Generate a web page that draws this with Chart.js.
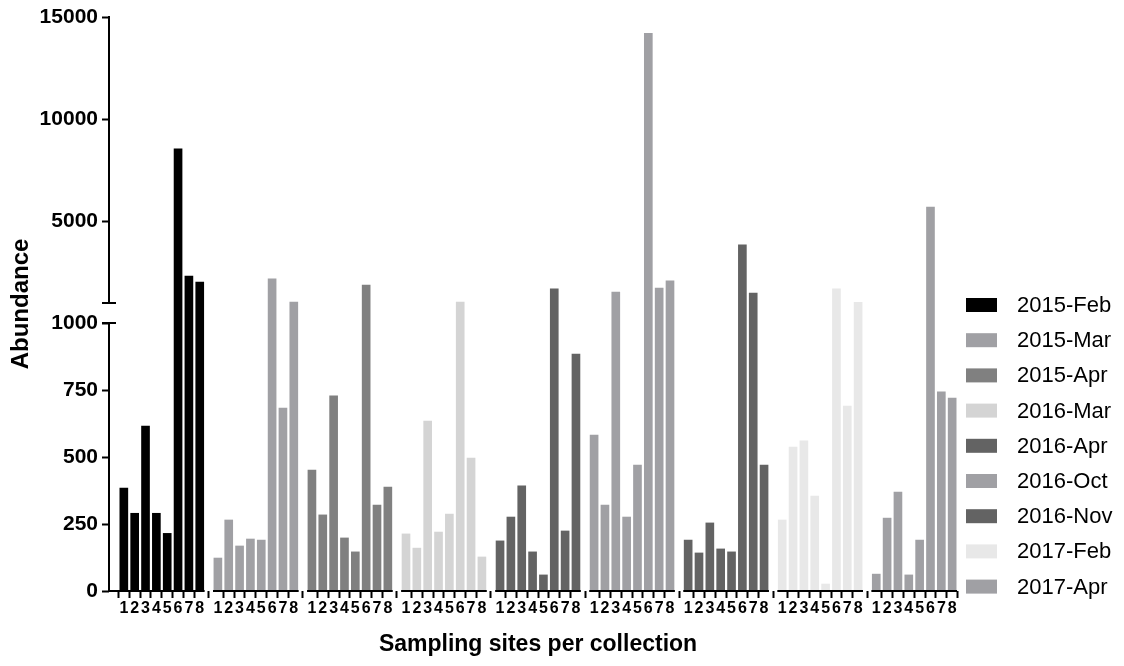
<!DOCTYPE html>
<html>
<head>
<meta charset="utf-8">
<title>Abundance per sampling site</title>
<script src="https://cdn.jsdelivr.net/npm/chart.js@4.4.0/dist/chart.umd.min.js"></script>
<style>
  html, body { margin: 0; padding: 0; background: #fff; }
</style>
</head>
<body>
<canvas id="chart" width="1124" height="666"></canvas>
<script>
// collections (legend) and the 8 sampling sites of each one
const collections = ['2015-Feb', '2015-Mar', '2015-Apr', '2016-Mar', '2016-Apr', '2016-Oct', '2016-Nov', '2017-Feb', '2017-Apr'];
const sites = ['1', '2', '3', '4', '5', '6', '7', '8'];

// abundance per site
const feb2015 = [384, 290, 615, 290, 215, 8550, 2320, 2030];
const mar2015 = [123, 265, 168, 194, 190, 2180, 683, 1050];
const apr2015 = [451, 284, 728, 198, 146, 1880, 321, 388];
const mar2016 = [213, 160, 634, 220, 287, 1050, 496, 127];
const apr2016 = [187, 276, 392, 146, 60, 1690, 224, 884];
const oct2016 = [582, 321, 1540, 276, 470, 14200, 1730, 2080];
const nov2016 = [190, 142, 254, 157, 146, 3850, 1490, 470];
const feb2017 = [265, 537, 560, 354, 26, 1690, 690, 1030];
const apr2017 = [63, 272, 369, 60, 190, 5700, 743, 720];

const seriesValues = [feb2015, mar2015, apr2015, mar2016, apr2016, oct2016, nov2016, feb2017, apr2017];
const colors = ['#000000', '#a0a0a4', '#808080', '#d4d4d4', '#636363', '#a0a0a4', '#636363', '#e8e8e8', '#a0a0a4'];

// y axis tick labels, below and above the break
const lowTicks = [0, 250, 500, 750, 1000];
const highTicks = [5000, 10000, 15000];

// broken y axis: 0-1000 linear, a gap, then 1000-15000 compressed
const BREAK = 1000;
const GAP = 74.6;
const K = 0.07623;
const toAxis = v => v <= BREAK ? v : BREAK + GAP + (v - BREAK) * K;

// bar positions on the x axis: 8 sites per collection, a small gap between collections
const GROUP_STEP = 8.673;
const xPos = (g, i) => g * GROUP_STEP + i;
const allPositions = [];
collections.forEach((c, g) => sites.forEach((s, i) => allPositions.push(xPos(g, i))));

Chart.defaults.font.family = '"Liberation Sans", Arial, sans-serif';
Chart.defaults.color = '#000';

const brokenAxes = {
  id: 'brokenAxes',
  afterDraw(chart) {
    const { ctx, chartArea, scales: { x, y } } = chart;
    const ax = chartArea.left;
    const yLow = y.getPixelForValue(BREAK);
    const yHigh = y.getPixelForValue(BREAK + GAP);
    ctx.save();
    ctx.strokeStyle = '#000';
    ctx.lineWidth = 2;
    ctx.beginPath();
    ctx.moveTo(ax, chartArea.top - 1);
    ctx.lineTo(ax, yHigh);
    ctx.moveTo(ax, yLow);
    ctx.lineTo(ax, chartArea.bottom + 1);
    // caps at the break
    ctx.moveTo(ax - 7, yHigh);
    ctx.lineTo(ax + 7, yHigh);
    ctx.moveTo(ax - 7, yLow);
    ctx.lineTo(ax + 7, yLow);
    // x axis, one segment per collection
    collections.forEach((c, g) => {
      ctx.moveTo(x.getPixelForValue(xPos(g, 0) - 0.45), chartArea.bottom);
      ctx.lineTo(x.getPixelForValue(xPos(g, 7) + 0.45), chartArea.bottom);
    });
    ctx.moveTo(ax, chartArea.bottom);
    ctx.lineTo(x.getPixelForValue(xPos(0, 0)), chartArea.bottom);
    ctx.stroke();
    ctx.restore();
  }
};

const sideLegend = {
  id: 'sideLegend',
  afterDraw(chart) {
    const { ctx, chartArea } = chart;
    const left = chartArea.right - 1;
    ctx.save();
    ctx.font = '22px "Liberation Sans", Arial, sans-serif';
    ctx.textBaseline = 'middle';
    chart.data.datasets.forEach((ds, i) => {
      const cy = 305 + i * 35.2;
      ctx.fillStyle = ds.backgroundColor;
      ctx.fillRect(left, cy - 7, 31, 14);
      ctx.fillStyle = '#000';
      ctx.fillText(ds.label, left + 51, cy + 1);
    });
    ctx.restore();
  }
};

const datasets = collections.map((name, g) => ({
  label: name,
  data: seriesValues[g].map((v, i) => ({ x: xPos(g, i), y: toAxis(v) })),
  backgroundColor: colors[g],
  borderWidth: 0,
  barThickness: 8,
  grouped: false
}));

const yLabels = lowTicks.concat(highTicks).map(String);

new Chart(document.getElementById('chart'), {
  type: 'bar',
  data: { datasets: datasets },
  plugins: [brokenAxes, sideLegend],
  options: {
    responsive: false,
    animation: false,
    devicePixelRatio: 1,
    layout: { padding: { top: 17, right: 157, left: 0, bottom: 0 } },
    plugins: {
      legend: { display: false },
      tooltip: { enabled: false }
    },
    scales: {
      x: {
        type: 'linear',
        min: -9 / 11,
        max: xPos(8, 7) + 9 / 11,
        afterBuildTicks: scale => { scale.ticks = allPositions.map(p => ({ value: p })); },
        afterFit: scale => { scale.height = 75; },
        ticks: {
          autoSkip: false,
          maxRotation: 0,
          padding: 1,
          font: { size: 16, weight: 'bold' },
          callback: (v, i) => sites[i % sites.length]
        },
        grid: { display: true, drawOnChartArea: false, drawTicks: true, tickLength: 7, tickWidth: 2, tickColor: '#000' },
        border: { display: false },
        title: {
          display: true,
          text: 'Sampling sites per collection',
          font: { size: 23, weight: 'bold' },
          padding: { top: 0, bottom: 8 }
        }
      },
      y: {
        type: 'linear',
        min: 0,
        max: toAxis(15000),
        afterBuildTicks: scale => {
          scale.ticks = lowTicks.concat(highTicks).map(v => ({ value: toAxis(v) }));
        },
        afterFit: scale => { scale.width = 109; },
        ticks: {
          autoSkip: false,
          padding: 4,
          font: { size: 21, weight: 'bold' },
          callback: (v, i) => yLabels[i]
        },
        grid: { display: true, drawOnChartArea: false, drawTicks: true, tickLength: 7, tickWidth: 2, tickColor: '#000' },
        border: { display: false },
        title: {
          display: true,
          text: 'Abundance',
          font: { size: 24, weight: 'bold' },
          padding: { top: 7, bottom: 0 }
        }
      }
    }
  }
});
</script>
</body>
</html>
